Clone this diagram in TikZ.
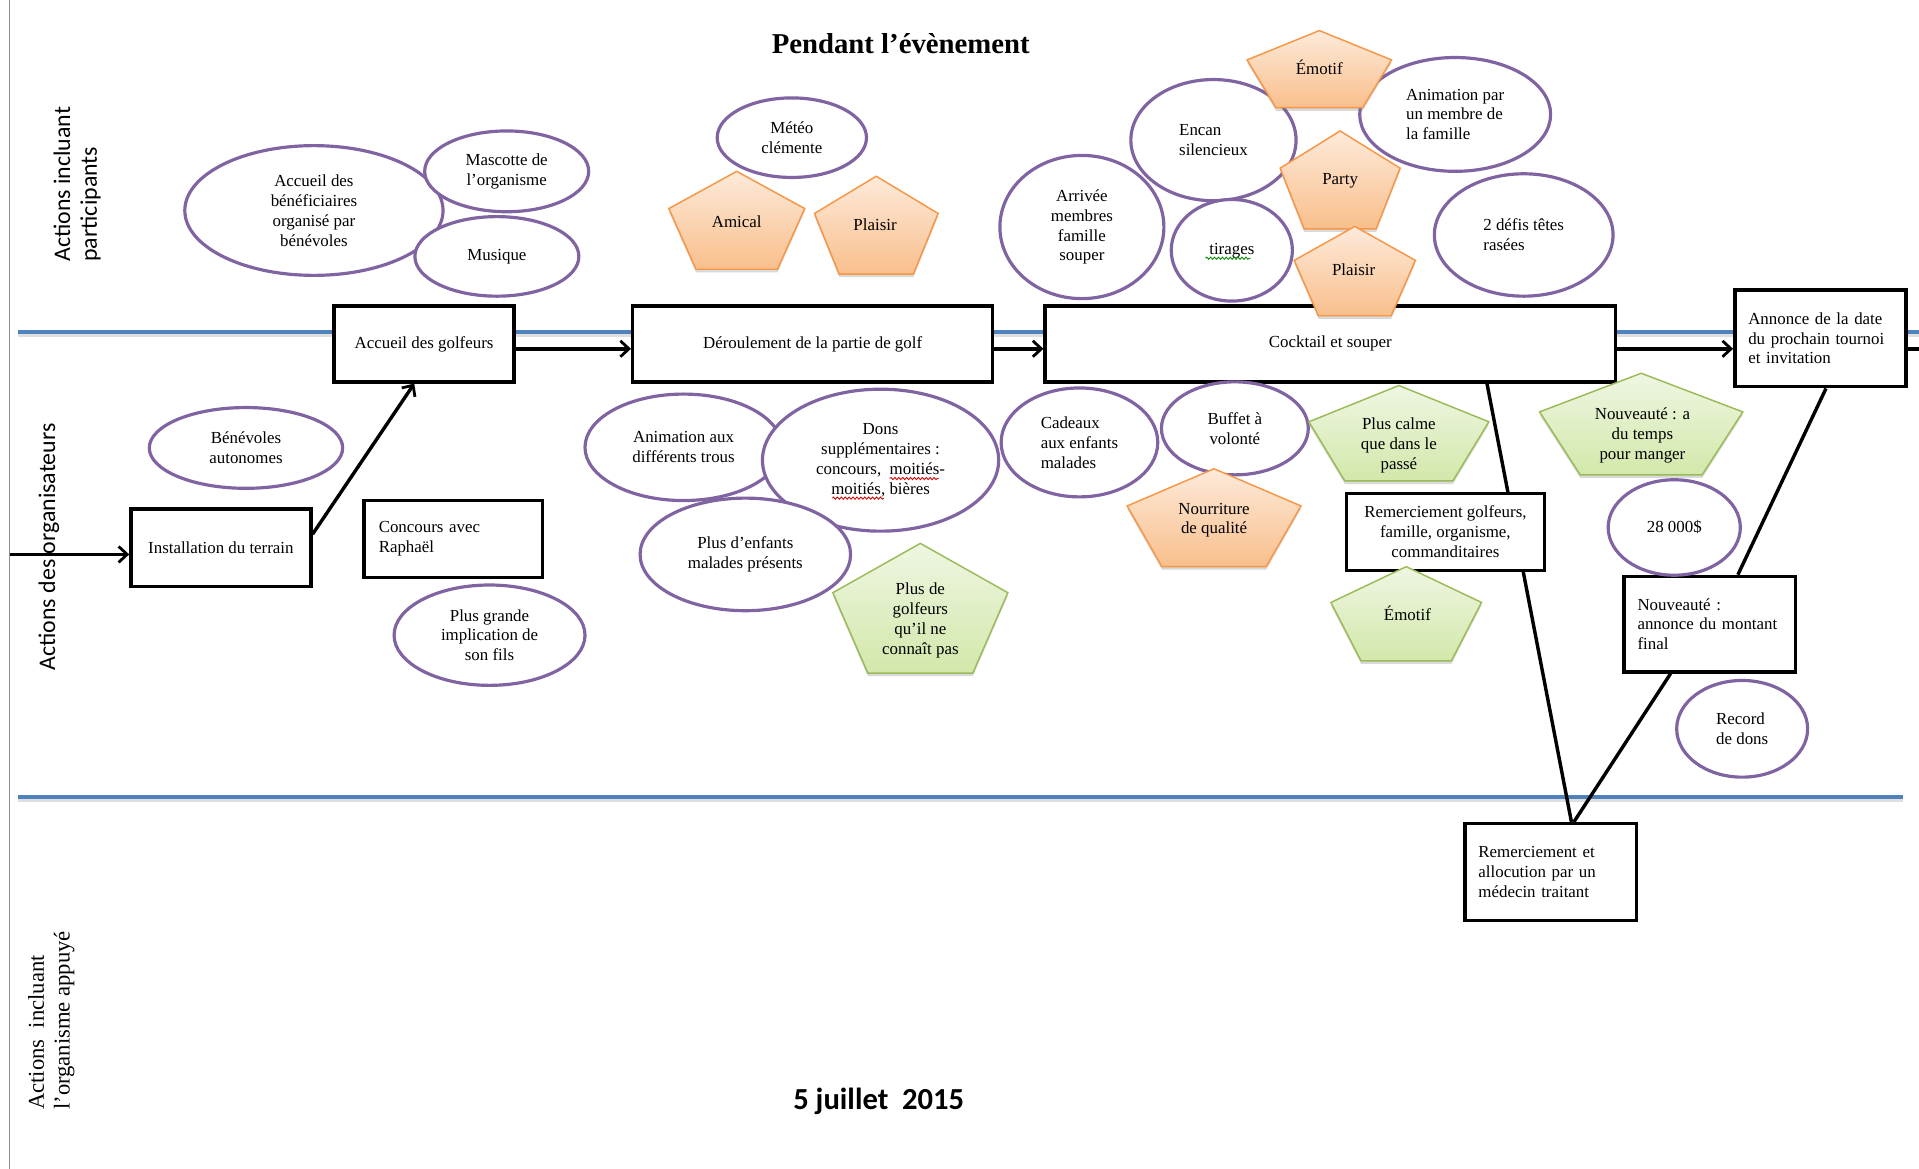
\documentclass[tikz,border=0pt]{standalone}
\usepackage{fontspec}
\setmainfont{Liberation Serif}
\newfontfamily\lanefont{Carlito}
\usetikzlibrary{shapes.geometric,arrows.meta,shadows,decorations.pathmorphing,backgrounds}
\hyphenpenalty=10000
\exhyphenpenalty=10000

\definecolor{lanecol}{HTML}{4F81BD}
\definecolor{ovalcol}{HTML}{8064A2}
\definecolor{orangeline}{HTML}{F79646}
\definecolor{orangetop}{HTML}{FDEADA}
\definecolor{orangebot}{HTML}{F9BF8C}
\definecolor{greenline}{HTML}{9BBB59}
\definecolor{greentop}{HTML}{EFF6E2}
\definecolor{greenbot}{HTML}{D2E8AA}

% pentagon: style, centre x, top y, width, height
\newcommand{\pentashape}[5]{%
  \path[#1] (#2,#3) -- ({#2-#4/2},{#3+0.38*#5}) -- ({#2-0.3*#4},{#3+#5})
    -- ({#2+0.3*#4},{#3+#5}) -- ({#2+#4/2},{#3+0.38*#5}) -- cycle;}

\tikzset{
  box/.style={draw, line width=2.8pt, fill=white, align=center, inner sep=4pt},
  lbox/.style={box, align=left, text width=#1, inner xsep=11pt},
  oval/.style={ellipse, draw=ovalcol, line width=2.6pt, fill=white, align=center, inner sep=0pt},
  loval/.style={oval, align=left},
  opent/.style={draw=orangeline, line width=1.2pt, top color=orangetop, bottom color=orangebot,
    drop shadow={shadow xshift=0pt, shadow yshift=-2.5pt, opacity=0.25, fill=black!60}},
  gpent/.style={draw=greenline, line width=1.2pt, top color=greentop, bottom color=greenbot,
    drop shadow={shadow xshift=0pt, shadow yshift=-2.5pt, opacity=0.25, fill=black!60}},
  ptext/.style={align=center, inner sep=0pt},
  lane/.style={draw=lanecol, line width=3pt},
  laneshade/.style={draw=black!25, line width=2.5pt, opacity=0.5},
  flow/.style={line width=2.8pt, -{Straight Barb[length=7pt,width=13pt,line width=2.3pt]}},
  link/.style={line width=2.8pt},
  spell/.style={decorate, decoration={snake, amplitude=0.9pt, segment length=3.2pt}, line width=0.7pt},
  lanelabel/.style={rotate=90, anchor=west, align=left, inner sep=0pt,
    font=\lanefont\fontsize{19.5}{22}\selectfont},
}

\begin{document}
\begin{tikzpicture}[x=1pt, y=-1pt, font=\fontsize{13.8}{16.2}\selectfont]
\useasboundingbox (0,0) rectangle (1568,955);

% headings
\node[font=\bfseries\fontsize{23.5}{28}\selectfont] (titre) at (736,36) {Pendant l’évènement};
\node[font=\lanefont\bfseries\fontsize{25}{28}\selectfont] (date) at (718,900) {5 juillet\ \ 2015};

% lane labels
\node[lanelabel] (lane1) at (63,214) {Actions incluant\\participants};
\node[lanelabel] (lane2) at (40,548) {Actions des organisateurs};
\node[lanelabel, font=\fontsize{18.5}{21}\selectfont] (lane3) at (42,907) {Actions\ \ incluant\\l’organisme appuyé};

% process boxes
\node[box, minimum width=147pt, minimum height=62pt] (b1) at (346.5,281) {Accueil des golfeurs};
\node[box, minimum width=294pt, minimum height=62pt] (b2) at (664,281) {Déroulement de la partie de golf};
\node[box, minimum width=466pt, minimum height=62pt] (b3) at (1087,281) {Cocktail et souper};
\node[lbox=118pt, minimum height=79pt] (b4) at (1487.5,276.5) {Annonce de la date\\du prochain tournoi\\et invitation};
\node[box, minimum width=147pt, minimum height=63pt] (b5) at (180.5,447.5) {Installation du terrain};
\node[lbox=122pt, minimum height=63pt, inner xsep=12pt] (b6) at (370.5,440.5) {Concours avec\\Raphaël};
\node[box, minimum width=162pt, minimum height=63pt] (b7) at (1181,434.5) {Remerciement golfeurs,\\famille, organisme,\\commanditaires};
\node[lbox=118pt, minimum height=78pt] (b8) at (1397,510) {Nouveauté :\\annonce du montant\\final};
\node[lbox=118pt, minimum height=79pt] (b9) at (1267,712.5) {Remerciement et\\allocution par un\\médecin traitant};

% page rule, lane separators and connectors sit behind the boxes
\coordinate (entry) at (8,453);
\coordinate (exitR) at (1568,285);
\begin{pgfonlayer}{background}
\draw[black!45, line width=1pt] (8,0) -- (8,955);
\draw[laneshade] (15,274) -- (1568,274);
\draw[lane] (15,271) -- (1568,271);
\draw[laneshade] (15,654) -- (1555,654);
\draw[lane] (15,651) -- (1555,651);
\draw[flow] (entry) -- (entry -| b5.west);
\draw[flow] ([yshift=11pt]b5.east) -- ([xshift=-8pt]b1.south);
\draw[flow] ([yshift=-4pt]b1.east) -- ([yshift=-4pt]b2.west);
\draw[flow] ([yshift=-4pt]b2.east) -- ([yshift=-4pt]b3.west);
\draw[flow] ([yshift=-4pt]b3.east) -- ([yshift=-8.5pt]b4.west);
\draw[link] ([yshift=-8.5pt]b4.east) -- (exitR);
\draw[link] ([xshift=128pt]b3.south) -- ([xshift=17pt]b9.north);
\draw[link] ([xshift=4.5pt]b4.south) -- ([xshift=23pt]b8.north);
\draw[link] ([xshift=-32pt]b8.south) -- ([xshift=19pt]b9.north);
\end{pgfonlayer}

% ovals
\node[oval, minimum width=211pt, minimum height=106pt] (e1) at (256.5,172) {Accueil des\\bénéficiaires\\organisé par\\bénévoles};
\node[oval, minimum width=134pt, minimum height=66pt] (e2) at (414,140) {Mascotte de\\l’organisme};
\node[oval, minimum width=134pt, minimum height=65pt] (e3) at (406,209.5) {Musique};
\node[oval, minimum width=122pt, minimum height=65pt] (e4) at (647,112.5) {Météo\\clémente};
\node[oval, minimum width=134pt, minimum height=117pt] (e5) at (884,185.5) {Arrivée\\membres\\famille\\souper};
\node[loval, minimum width=135pt, minimum height=99pt] (e6) at (991.5,114.5) {Encan\\silencieux};
\node[oval, minimum width=99pt, minimum height=83pt] (e7) at (1006.5,204.5) {tirages};
\node[loval, minimum width=156pt, minimum height=93pt] (e8) at (1189,93.5) {Animation par\\un membre de\\la famille};
\node[loval, minimum width=146pt, minimum height=100pt] (e9) at (1245,192) {2 défis têtes\\rasées};
\node[oval, minimum width=158pt, minimum height=66pt] (e10) at (201,366) {Bénévoles\\autonomes};
\node[oval, minimum width=156pt, minimum height=82pt] (e11) at (400,519) {Plus grande\\implication de\\son fils};
\node[oval, minimum width=161pt, minimum height=87pt] (e12) at (558.5,365.5) {Animation aux\\différents trous};
\node[oval, minimum width=193pt, minimum height=116pt] (e13) at (719.5,376) {Dons\\supplémentaires :\\concours,\ \ moitiés-\\moitiés, bières};
\node[oval, minimum width=172pt, minimum height=92pt] (e14) at (609,453) {Plus d’enfants\\malades présents};
\node[loval, minimum width=128pt, minimum height=89pt] (e15) at (882,361.5) {Cadeaux\\aux enfants\\malades};
\node[oval, minimum width=120pt, minimum height=76pt] (e16) at (1009,350) {Buffet à\\volonté};
\node[oval, minimum width=108pt, minimum height=78pt] (e17) at (1368,431) {28 000\$};
\node[loval, minimum width=107pt, minimum height=79pt] (e18) at (1423.5,595.5) {Record\\de dons};

% spelling marks under flagged words
\coordinate (sp1a) at (985,211); \coordinate (sp1b) at (1022,211);
\draw[spell, green!55!black] (sp1a) -- (sp1b);
\coordinate (sp2a) at (727,391); \coordinate (sp2b) at (767,391);
\draw[spell, red!85!black] (sp2a) -- (sp2b);
\coordinate (sp3a) at (680,407); \coordinate (sp3b) at (722,407);
\draw[spell, red!85!black] (sp3a) -- (sp3b);

% feelings (orange) and novelties (green)
\pentashape{opent}{602}{140}{111}{80}
\pentashape{opent}{716}{144}{101}{80}
\pentashape{opent}{1078}{25}{118}{63}
\pentashape{opent}{1095}{107}{98}{80}
\pentashape{opent}{1107}{185}{99}{73}
\pentashape{opent}{992}{383}{142}{80}
\pentashape{gpent}{752}{444}{143}{106}
\pentashape{gpent}{1143}{315}{147}{78}
\pentashape{gpent}{1341}{305}{166}{83}
\pentashape{gpent}{1149}{463}{123}{77}

\node[ptext] (p1) at (602,181) {Amical};
\node[ptext] (p2) at (715,184) {Plaisir};
\node[ptext] (p3) at (1078,55) {Émotif};
\node[ptext] (p4) at (1095,148) {Party};
\node[ptext] (p5) at (1106,220) {Plaisir};
\node[ptext] (p6) at (992,425) {Nourriture\\de qualité};
\node[ptext] (g1) at (752,507) {Plus de\\golfeurs\\qu’il ne\\connaît pas};
\node[ptext] (g2) at (1143,364) {Plus calme\\que dans le\\passé};
\node[ptext] (g3) at (1342,356) {Nouveauté : a\\du temps\\pour manger};
\node[ptext] (g4) at (1150,501) {Émotif};
\end{tikzpicture}
\end{document}
